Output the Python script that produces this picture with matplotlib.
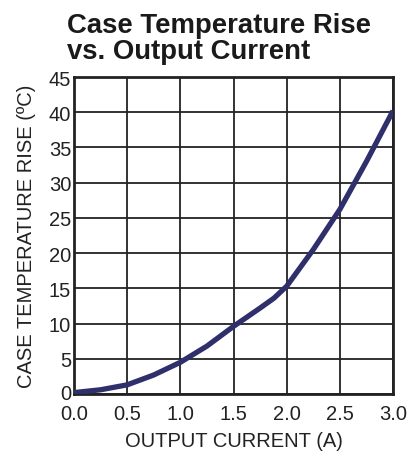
import matplotlib
matplotlib.use("Agg")
import matplotlib.pyplot as plt
import matplotlib.transforms as mtransforms

plt.rcParams['font.family'] = ['Liberation Sans', 'DejaVu Sans']

current = [0.0, 0.25, 0.5, 0.75, 1.0, 1.25, 1.5, 1.75, 1.88, 2.0, 2.25, 2.5, 2.75, 3.0]
temp_rise = [0.2, 0.6, 1.3, 2.7, 4.5, 6.8, 9.6, 12.2, 13.6, 15.3, 20.5, 26.2, 33.0, 40.2]
x_ticks = [0.0, 0.5, 1.0, 1.5, 2.0, 2.5, 3.0]
x_labels = ["0.0", "0.5", "1.0", "1.5", "2.0", "2.5", "3.0"]
y_ticks = [0, 5, 10, 15, 20, 25, 30, 35, 40, 45]

W, H = 417, 456
fig = plt.figure(figsize=(W/100, H/100), dpi=100)
ax = fig.add_axes([74/W, 1 - 395/H, (393-74)/W, (395-78)/H])

ax.plot(current, temp_rise, color='#2e2f6b', linewidth=3.8, solid_capstyle='butt', zorder=3)
ax.set_xlim(0, 3.0)
ax.set_ylim(0, 45)
ax.set_xticks(x_ticks)
ax.set_xticklabels(x_labels)
ax.set_yticks(y_ticks)
ax.grid(True, color='#222222', linewidth=1.3)
ax.tick_params(axis='both', length=0, labelsize=14.5, colors='#222222')
ax.tick_params(axis='x', pad=7)
ax.tick_params(axis='y', pad=2)
for s in ax.spines.values():
    s.set_linewidth(2)
    s.set_color('#222222')
ax.set_xlabel("OUTPUT CURRENT (A)", fontsize=14.5, color='#222222', labelpad=6)
ax.set_ylabel("CASE TEMPERATURE RISE (ºC)", fontsize=14.5, color='#222222', labelpad=9)

# nudge the y "0" label up slightly so it does not collide with "0.0"
ylab0 = ax.get_yticklabels()[0]
ylab0.set_transform(ylab0.get_transform() + mtransforms.ScaledTranslation(0, 2/100, fig.dpi_scale_trans))

fig.text(67/W, 1 - 33/H, "Case Temperature Rise", fontsize=19.8,
         fontweight='bold', color='#1a1a1a', ha='left', va='baseline')
fig.text(67/W, 1 - 59/H, "vs. Output Current", fontsize=19.8,
         fontweight='bold', color='#1a1a1a', ha='left', va='baseline')

fig.savefig("out.png", dpi=100)
